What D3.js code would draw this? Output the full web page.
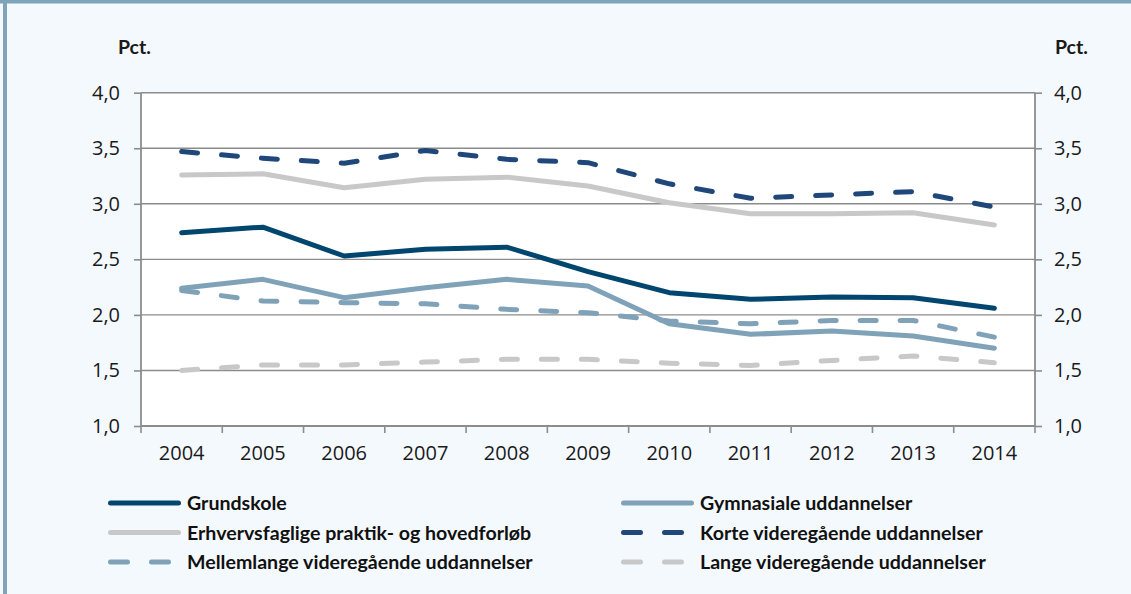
<!DOCTYPE html>
<html>
<head>
<meta charset="utf-8">
<script src="https://cdn.jsdelivr.net/npm/d3@7"></script>
<style>
  body { margin: 0; background: #f4f9fe; }
  svg { display: block; }
</style>
</head>
<body>
<svg id="chart" width="1131" height="594"></svg>
<script>
// data (pct.)
const years = [2004, 2005, 2006, 2007, 2008, 2009, 2010, 2011, 2012, 2013, 2014];
const grundskole   = [2.74, 2.79, 2.53, 2.59, 2.61, 2.39, 2.20, 2.14, 2.16, 2.155, 2.06];
const gymnasiale   = [2.24, 2.32, 2.155, 2.245, 2.32, 2.26, 1.92, 1.825, 1.855, 1.81, 1.70];
const erhvervs     = [3.26, 3.27, 3.145, 3.22, 3.24, 3.16, 3.01, 2.91, 2.91, 2.92, 2.81];
const korte        = [3.47, 3.41, 3.365, 3.48, 3.40, 3.37, 3.18, 3.05, 3.08, 3.11, 2.97];
const mellemlange  = [2.22, 2.125, 2.11, 2.10, 2.05, 2.02, 1.945, 1.92, 1.95, 1.95, 1.80];
const lange        = [1.50, 1.55, 1.55, 1.575, 1.60, 1.60, 1.565, 1.545, 1.59, 1.63, 1.57];
const yTicks = [1.0, 1.5, 2.0, 2.5, 3.0, 3.5, 4.0];
const unitLabel = "Pct.";

const series = [
  {name: "Grundskole", values: grundskole, color: "#00466e", dashed: false},
  {name: "Gymnasiale uddannelser", values: gymnasiale, color: "#7fa2b8", dashed: false},
  {name: "Erhvervsfaglige praktik- og hovedforløb", values: erhvervs, color: "#c8c8c8", dashed: false},
  {name: "Korte videregående uddannelser", values: korte, color: "#1f477a", dashed: true},
  {name: "Mellemlange videregående uddannelser", values: mellemlange, color: "#7fa2b8", dashed: true},
  {name: "Lange videregående uddannelser", values: lange, color: "#c8c8c8", dashed: true}
];

const svg = d3.select("#chart");
const W = 1131, H = 594;
const plot = {left: 141, right: 1035, top: 92.7, bottom: 426};

const fmt = d3.formatLocale({decimal: ",", thousands: ".", grouping: [3], currency: ["", " kr."]}).format(".1f");

// frame
svg.append("rect").attr("width", W).attr("height", H).attr("fill", "#f4f9fe");
svg.append("rect").attr("x", 0).attr("y", 0).attr("width", W).attr("height", 3.5).attr("fill", "#7fa3b8");
svg.append("rect").attr("x", 3).attr("y", 0).attr("width", 4).attr("height", H).attr("fill", "#7fa3b8");

const x = d3.scaleBand().domain(years).range([plot.left, plot.right]).padding(0);
const y = d3.scaleLinear().domain([1, 4]).range([plot.bottom, plot.top]);
const cx = d => x(d) + x.bandwidth() / 2;

svg.append("rect")
  .attr("x", plot.left).attr("y", plot.top)
  .attr("width", plot.right - plot.left).attr("height", plot.bottom - plot.top)
  .attr("fill", "#ffffff");

// gridlines
svg.append("g").selectAll("line")
  .data(yTicks.slice(1))
  .join("line")
  .attr("x1", plot.left).attr("x2", plot.right)
  .attr("y1", d => y(d)).attr("y2", d => y(d))
  .attr("stroke", "#8c8c8c").attr("stroke-width", 1.4);

const tickFont = "'Open Sans', 'Noto Sans', sans-serif";

// left and right axes
const yLeft = svg.append("g").attr("transform", `translate(${plot.left},0)`)
  .call(d3.axisLeft(y).tickValues(yTicks).tickSize(7).tickPadding(14).tickFormat(fmt));
const yRight = svg.append("g").attr("transform", `translate(${plot.right},0)`)
  .call(d3.axisRight(y).tickValues(yTicks).tickSize(7).tickPadding(12).tickFormat(fmt));

// bottom axis: labels at band centres, tick marks on band edges
const xAxis = svg.append("g").attr("transform", `translate(0,${plot.bottom})`)
  .call(d3.axisBottom(x).tickSize(0).tickPadding(20));
xAxis.append("g").selectAll("line")
  .data(years.concat(["end"]))
  .join("line")
  .attr("x1", d => d === "end" ? plot.right : x(d))
  .attr("x2", d => d === "end" ? plot.right : x(d))
  .attr("y1", 0).attr("y2", 7)
  .attr("stroke", "#8c8c8c").attr("stroke-width", 1.6);

[yLeft, yRight, xAxis].forEach(g => {
  g.selectAll(".domain").attr("stroke", "#8c8c8c").attr("stroke-width", 1.8);
  g.selectAll(".tick line").attr("stroke", "#8c8c8c").attr("stroke-width", 1.6);
  g.selectAll("text").attr("font-family", tickFont).attr("font-size", 20).attr("fill", "#1a1a1a");
});
yLeft.select(".domain").attr("d", `M0,${plot.top}V${plot.bottom}`);
yRight.select(".domain").attr("d", `M0,${plot.top}V${plot.bottom}`);
xAxis.select(".domain").attr("d", `M${plot.left},0H${plot.right}`);

// unit labels
svg.append("text").attr("x", 118).attr("y", 54).text(unitLabel)
  .attr("font-family", "Lato, sans-serif").attr("font-weight", "bold").attr("font-size", 19.5).attr("fill", "#1a1a1a");
svg.append("text").attr("x", 1055).attr("y", 54).text(unitLabel)
  .attr("font-family", "Lato, sans-serif").attr("font-weight", "bold").attr("font-size", 19.5).attr("fill", "#1a1a1a");

// lines
const line = d3.line().x((d, i) => cx(years[i])).y(d => y(d));
svg.append("g").selectAll("path")
  .data(series)
  .join("path")
  .attr("d", d => line(d.values))
  .attr("fill", "none")
  .attr("stroke", d => d.color)
  .attr("stroke-width", 5)
  .attr("stroke-linejoin", "round")
  .attr("stroke-linecap", "round")
  .attr("stroke-dasharray", d => d.dashed ? "16,24" : null);

// legend: two columns, three rows
const legend = svg.append("g");
const legendItems = legend.selectAll("g")
  .data(series)
  .join("g")
  .attr("transform", (d, i) => `translate(${i % 2 === 0 ? 108 : 621},${503 + Math.floor(i / 2) * 29.5})`);

legendItems.append("line")
  .attr("x1", 2.5).attr("x2", 70.5).attr("y1", 0).attr("y2", 0)
  .attr("stroke", d => d.color).attr("stroke-width", 5)
  .attr("stroke-linecap", "round")
  .attr("stroke-dasharray", d => d.dashed ? "17,24" : null);

legendItems.append("text")
  .attr("transform", "translate(79,7)")
  .text(d => d.name)
  .attr("font-family", "Lato, sans-serif").attr("font-weight", "bold")
  .attr("font-size", 19.6).attr("fill", "#111");
</script>
</body>
</html>
